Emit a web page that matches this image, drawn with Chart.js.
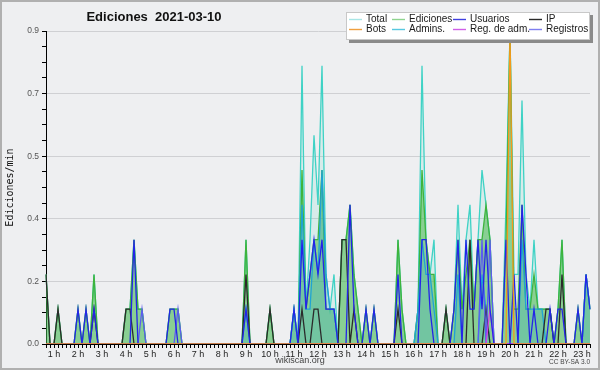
<!DOCTYPE html>
<html>
<head>
<meta charset="utf-8">
<script src="https://cdn.jsdelivr.net/npm/chart.js@4/dist/chart.umd.min.js"></script>
<style>
  html, body { margin: 0; padding: 0; background: #eeeff1; }
  canvas { display: block; }
</style>
</head>
<body>
<canvas id="chart" width="600" height="370"></canvas>
<script>
// 10 min slots, first one is 0:40 and last one is 23:20
const slotStart = 40, slotStep = 10, slotCount = 137;
const slots = [];
for (let k = 0; k < slotCount; k++) {
  const m = slotStart + k * slotStep;
  slots.push(Math.floor(m / 60) + ':' + String(m % 60).padStart(2, '0'));
}

// edits per minute, one row per hour
const total = [
  0.2, 0,
  0, 0.1, 0, 0, 0, 0,            // 1 h
  0.1, 0, 0.1, 0, 0.2, 0,        // 2 h
  0, 0, 0, 0, 0, 0,              // 3 h
  0.1, 0.1, 0.3, 0.1, 0.1, 0,    // 4 h
  0, 0, 0, 0, 0, 0.1,            // 5 h
  0.1, 0.1, 0, 0, 0, 0,          // 6 h
  0, 0, 0, 0, 0, 0,              // 7 h
  0, 0, 0, 0, 0, 0,              // 8 h
  0.3, 0, 0, 0, 0, 0,            // 9 h
  0.1, 0, 0, 0, 0, 0,            // 10 h
  0.1, 0, 0.8, 0.1, 0.3, 0.6,    // 11 h
  0.4, 0.8, 0.2, 0.1, 0.2, 0,    // 12 h
  0.3, 0.3, 0.4, 0.2, 0.1, 0,    // 13 h
  0.1, 0, 0.1, 0, 0, 0,          // 14 h
  0, 0, 0.3, 0.1, 0, 0,          // 15 h
  0, 0.1, 0.8, 0.3, 0.2, 0.3,    // 16 h
  0, 0, 0.1, 0, 0.1, 0.4,        // 17 h
  0.1, 0.3, 0.4, 0.1, 0.3, 0.5,  // 18 h
  0.4, 0.3, 0, 0, 0, 0.4,        // 19 h
  0.9, 0.2, 0.2, 0.7, 0.2, 0.1,  // 20 h
  0.3, 0.1, 0.1, 0.1, 0.1, 0,    // 21 h
  0.1, 0.3, 0, 0, 0, 0.1,        // 22 h
  0, 0.2, 0.1                    // 23 h
];

const edits = [
  0.2, 0,
  0, 0.1, 0, 0, 0, 0,
  0.1, 0, 0.1, 0, 0.2, 0,
  0, 0, 0, 0, 0, 0,
  0.1, 0.1, 0.3, 0.1, 0.1, 0,
  0, 0, 0, 0, 0, 0.1,
  0.1, 0.1, 0, 0, 0, 0,
  0, 0, 0, 0, 0, 0,
  0, 0, 0, 0, 0, 0,
  0.3, 0, 0, 0, 0, 0,
  0.1, 0, 0, 0, 0, 0,
  0.1, 0, 0.5, 0.1, 0.2, 0.3,
  0.3, 0.5, 0.1, 0.1, 0.1, 0,
  0.3, 0.3, 0.4, 0.2, 0.1, 0,
  0.1, 0, 0.1, 0, 0, 0,
  0, 0, 0.3, 0.1, 0, 0,
  0, 0.1, 0.5, 0.3, 0.2, 0.2,
  0, 0, 0.1, 0, 0.1, 0.3,
  0.1, 0.2, 0.3, 0.1, 0.3, 0.3,
  0.4, 0.3, 0, 0, 0, 0.3,
  0.9, 0.1, 0.1, 0.4, 0.1, 0.1,
  0.2, 0.1, 0.1, 0.1, 0.1, 0,
  0.1, 0.3, 0, 0, 0, 0.1,
  0, 0.2, 0.1
];

const users = [
  0, 0,
  0, 0, 0, 0, 0, 0,
  0.1, 0, 0.1, 0, 0.1, 0,
  0, 0, 0, 0, 0, 0,
  0, 0, 0.3, 0, 0, 0,
  0, 0, 0, 0, 0, 0.1,
  0.1, 0, 0, 0, 0, 0,
  0, 0, 0, 0, 0, 0,
  0, 0, 0, 0, 0, 0,
  0.1, 0, 0, 0, 0, 0,
  0, 0, 0, 0, 0, 0,
  0.1, 0, 0.3, 0.1, 0.2, 0.3,
  0.2, 0.3, 0.1, 0.1, 0.1, 0,
  0, 0, 0.4, 0.1, 0, 0,
  0.1, 0, 0.1, 0, 0, 0,
  0, 0, 0.2, 0, 0, 0,
  0, 0, 0.3, 0.3, 0.1, 0,
  0, 0, 0, 0, 0.1, 0.3,
  0, 0.3, 0.1, 0.1, 0.3, 0.1,
  0.3, 0.1, 0, 0, 0, 0.3,
  0, 0.2, 0, 0.4, 0.2, 0,
  0.1, 0, 0, 0, 0.1, 0,
  0.1, 0.1, 0, 0, 0, 0.1,
  0, 0.2, 0.1
];

const ip = [
  0.2, 0,
  0, 0.1, 0, 0, 0, 0,
  0, 0, 0, 0, 0.1, 0,
  0, 0, 0, 0, 0, 0,
  0.1, 0.1, 0, 0, 0, 0,
  0, 0, 0, 0, 0, 0,
  0, 0, 0, 0, 0, 0,
  0, 0, 0, 0, 0, 0,
  0, 0, 0, 0, 0, 0,
  0.2, 0, 0, 0, 0, 0,
  0.1, 0, 0, 0, 0, 0,
  0, 0, 0.1, 0, 0, 0.1,
  0.1, 0, 0, 0, 0, 0,
  0.3, 0.3, 0, 0.1, 0, 0,
  0, 0, 0, 0, 0, 0,
  0, 0, 0.1, 0, 0, 0,
  0, 0, 0, 0, 0, 0,
  0, 0, 0.1, 0, 0, 0,
  0, 0, 0.3, 0, 0, 0,
  0.1, 0, 0, 0, 0, 0,
  0, 0, 0, 0, 0, 0,
  0, 0, 0, 0.1, 0.1, 0,
  0, 0.2, 0, 0, 0, 0,
  0, 0, 0
];

const bots = [
  0, 0,
  0, 0, 0, 0, 0, 0,  0, 0, 0, 0, 0, 0,  0, 0, 0, 0, 0, 0,  0, 0, 0, 0, 0, 0,
  0, 0, 0, 0, 0, 0,  0, 0, 0, 0, 0, 0,  0, 0, 0, 0, 0, 0,  0, 0, 0, 0, 0, 0,
  0, 0, 0, 0, 0, 0,  0, 0, 0, 0, 0, 0,  0, 0, 0, 0, 0, 0,  0, 0, 0, 0, 0, 0,
  0, 0, 0, 0, 0, 0,  0, 0, 0, 0, 0, 0,  0, 0, 0, 0, 0, 0,  0, 0, 0, 0, 0, 0,
  0, 0, 0, 0, 0, 0,  0, 0, 0, 0, 0, 0,  0, 0, 0, 0, 0, 0,
  0.9, 0, 0, 0, 0, 0,                                      // 20 h
  0, 0, 0, 0, 0, 0,  0, 0, 0, 0, 0, 0,
  0, 0, 0
];

const admins = [
  0, 0,
  0, 0, 0, 0, 0, 0,  0, 0, 0, 0, 0, 0,  0, 0, 0, 0, 0, 0,  0, 0, 0, 0, 0, 0,
  0, 0, 0, 0, 0, 0,  0, 0, 0, 0, 0, 0,  0, 0, 0, 0, 0, 0,  0, 0, 0, 0, 0, 0,
  0.1, 0, 0, 0, 0, 0,
  0, 0, 0, 0, 0, 0,
  0.1, 0, 0.4, 0.1, 0.1, 0.3,
  0.2, 0.5, 0.2, 0.1, 0.1, 0,
  0, 0, 0, 0, 0, 0,  0, 0, 0, 0, 0, 0,  0, 0, 0, 0, 0, 0,
  0, 0.1, 0.3, 0.2, 0.2, 0.1,
  0, 0, 0, 0, 0, 0.2,
  0, 0, 0, 0, 0, 0.2,
  0.1, 0, 0, 0, 0, 0,
  0, 0, 0, 0.3, 0.1, 0.1,
  0.1, 0.1, 0.1, 0, 0, 0,
  0, 0, 0, 0, 0, 0,
  0, 0.2, 0.1
];

const regAdm = [
  0, 0,
  0, 0, 0, 0, 0, 0,  0, 0, 0, 0, 0, 0,  0, 0, 0, 0, 0, 0,  0, 0, 0, 0, 0, 0,
  0, 0, 0, 0, 0, 0,  0, 0, 0, 0, 0, 0,  0, 0, 0, 0, 0, 0,  0, 0, 0, 0, 0, 0,
  0, 0, 0, 0, 0, 0,  0, 0, 0, 0, 0, 0,  0, 0, 0, 0, 0, 0,  0, 0, 0, 0, 0, 0,
  0, 0, 0, 0, 0, 0,  0, 0, 0, 0, 0, 0,  0, 0, 0, 0, 0, 0,  0, 0, 0, 0, 0, 0,
  0, 0, 0, 0, 0, 0,  0, 0, 0, 0, 0, 0,
  0, 0.1, 0, 0, 0, 0,                                      // 19 h
  0, 0, 0, 0, 0, 0,  0, 0, 0, 0, 0, 0,  0, 0, 0, 0, 0, 0,
  0, 0, 0
];

const logs = [
  0, 0,
  0, 0, 0, 0, 0, 0,  0, 0, 0, 0, 0, 0,  0, 0, 0, 0, 0, 0,
  0, 0, 0, 0, 0.1, 0,                                      // 4 h
  0, 0, 0, 0, 0, 0,
  0, 0.1, 0, 0, 0, 0,                                      // 6 h
  0, 0, 0, 0, 0, 0,  0, 0, 0, 0, 0, 0,  0, 0, 0, 0, 0, 0,  0, 0, 0, 0, 0, 0,
  0, 0, 0, 0, 0, 0,  0, 0, 0, 0, 0, 0,  0, 0, 0, 0, 0, 0,  0, 0, 0, 0, 0, 0,
  0, 0, 0, 0, 0, 0,  0, 0, 0, 0, 0, 0,  0, 0, 0, 0, 0, 0,
  0, 0, 0, 0, 0, 0.3,                                      // 18 h
  0, 0.3, 0, 0, 0, 0,                                      // 19 h
  0, 0, 0, 0, 0, 0,  0, 0, 0, 0, 0, 0,  0, 0, 0, 0, 0, 0,
  0, 0, 0
];

const names = ['Total', 'Ediciones', 'Usuarios', 'IP', 'Bots', 'Admins.', 'Reg. de adm.', 'Registros'];
const values = [total, edits, users, ip, bots, admins, regAdm, logs];

// y axis: 0 .. 0.9, small tick every 0.045, label + grid every 4th
const yMax = 0.9, yStep = 0.045;

// styles
const lineColors = ['#3fd2c5', '#3db43d', '#2424e8', '#2b2b2b', '#f39a1c', '#1fa3d4', '#cf42e2', '#5c5cf0'];
const fillColors = ['rgba(63,210,197,0.13)', 'rgba(60,180,60,0.5)', null, null, null, 'rgba(31,163,212,0.22)', null, null];
const drawOrder = [8, 7, 2, 5, 1, 6, 3, 4];
const legendColors = ['#a8e6e6', '#8fd48f', '#4040e0', '#2a2a2a', '#f0a040', '#58c8e0', '#d060e8', '#7f7ff0'];

const decor = {
  id: 'decor',
  beforeDraw(chart) {
    const c = chart.ctx;
    c.save();
    c.fillStyle = '#eeeff1';
    c.fillRect(0, 0, 600, 370);
    c.strokeStyle = '#b0b0b0';
    c.lineWidth = 2;
    c.strokeRect(1, 1, 598, 368);
    c.restore();
  },
  afterDraw(chart) {
    const c = chart.ctx;
    c.save();
    // title
    c.fillStyle = '#111';
    c.font = 'bold 13px "Liberation Sans"';
    c.textAlign = 'center';
    c.textBaseline = 'middle';
    c.fillText('Ediciones  2021-03-10', 154, 17);

    // legend box with shadow
    c.fillStyle = '#8a8a8a';
    c.fillRect(349, 15, 244, 28);
    c.fillStyle = '#fff';
    c.fillRect(346, 12, 244, 28);
    c.strokeStyle = '#c8c8c8';
    c.lineWidth = 1;
    c.strokeRect(346.5, 12.5, 243, 27);
    const colX = [349, 392, 453, 529];
    const rowY = [19, 29];
    c.font = '10px "Liberation Sans"';
    c.textAlign = 'left';
    c.lineWidth = 1.4;
    names.forEach((n, i) => {
      const col = i % 4, row = Math.floor(i / 4);
      const x = colX[col], y = rowY[row];
      c.strokeStyle = legendColors[i];
      c.beginPath();
      c.moveTo(x, y + 0.5);
      c.lineTo(x + 13, y + 0.5);
      c.stroke();
      c.fillStyle = '#1a1a1a';
      c.fillText(n, x + 17, y);
    });

    // footer
    c.fillStyle = '#444';
    c.font = '9px "Liberation Sans"';
    c.textAlign = 'center';
    c.fillText('wikiscan.org', 300, 361);
    c.font = '6.5px "Liberation Sans"';
    c.textAlign = 'right';
    c.fillText('CC BY-SA 3.0', 590, 362);
    c.restore();
  }
};

new Chart(document.getElementById('chart'), {
  type: 'line',
  data: {
    labels: slots,
    datasets: values.map((v, i) => ({
      label: names[i],
      data: v,
      borderColor: lineColors[i],
      backgroundColor: fillColors[i] || 'transparent',
      fill: fillColors[i] ? 'origin' : false,
      borderWidth: 1.3,
      pointRadius: 0,
      tension: 0,
      order: drawOrder[i]
    }))
  },
  options: {
    responsive: false,
    animation: false,
    layout: { padding: { top: 31, right: 10, bottom: 0, left: 0 } },
    plugins: { legend: { display: false }, tooltip: { enabled: false } },
    scales: {
      x: {
        afterFit: s => { s.height = 26; },
        grid: { drawOnChartArea: false, tickLength: 4, tickColor: '#000' },
        border: { color: '#000', width: 1 },
        ticks: {
          autoSkip: false,
          maxRotation: 0,
          padding: 1,
          color: '#222',
          font: { family: 'Liberation Sans', size: 9 },
          callback: (v, i) => slots[i].endsWith(':00') ? parseInt(slots[i]) + ' h' : ''
        }
      },
      y: {
        min: 0,
        max: yMax,
        afterFit: s => { s.width = 46; },
        grid: {
          tickLength: 4,
          tickColor: '#000',
          color: ctx => ctx.index % 4 === 0 ? '#cfd0d3' : 'rgba(0,0,0,0)'
        },
        border: { color: '#000', width: 1 },
        ticks: {
          stepSize: yStep,
          padding: 3,
          color: '#555',
          font: { family: 'Liberation Sans', size: 8.5 },
          callback: (v, i) => i % 4 === 0 ? v.toFixed(1) : ''
        },
        title: {
          display: true,
          text: 'Ediciones/min',
          color: '#111',
          padding: { top: 4, bottom: 0 },
          font: { family: 'DejaVu Sans Mono', size: 10 }
        }
      }
    }
  },
  plugins: [decor]
});
</script>
</body>
</html>
